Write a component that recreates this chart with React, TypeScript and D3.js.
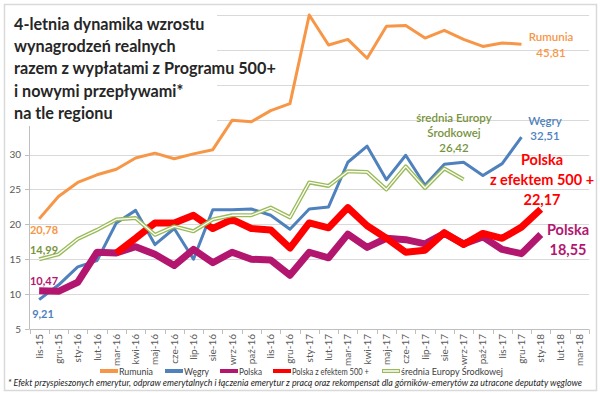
import { useEffect, useRef } from "react"
import * as d3 from "d3"

// Month categories on the x axis
const months = [
  "lis-15", "gru-15", "sty-16", "lut-16", "mar-16", "kwi-16", "maj-16", "cze-16",
  "lip-16", "sie-16", "wrz-16", "paź-16", "lis-16", "gru-16", "sty-17", "lut-17",
  "mar-17", "kwi-17", "maj-17", "cze-17", "lip-17", "sie-17", "wrz-17", "paź-17",
  "lis-17", "gru-17", "sty-18", "lut-18", "mar-18",
]

// Series values (null = no data for that month)
const rumunia = [
  20.78, 24.0, 26.0, 27.1, 27.9, 29.5, 30.2, 29.4, 30.1, 30.7, 34.9, 34.7, 36.3,
  37.3, 50.0, 45.7, 46.5, 43.8, 48.4, 48.5, 46.7, 47.8, 46.5, 45.5, 46.0, 45.81,
]
const wegry = [
  9.21, 11.3, 13.9, 14.8, 20.2, 22.0, 17.1, 19.4, 15.0, 22.1, 22.1, 22.2, 21.3,
  19.3, 22.2, 22.5, 28.9, 31.2, 26.4, 29.9, 25.6, 28.6, 28.9, 27.0, 28.7, 32.51,
]
const polska = [
  10.47, 10.4, 11.7, 16.0, 15.9, 16.8, 15.7, 14.1, 16.4, 14.5, 16.0, 15.0, 14.9,
  12.7, 16.0, 15.2, 18.6, 16.7, 18.0, 17.8, 17.2, 18.7, 17.2, 18.2, 16.4, 15.8, 18.55,
]
const polskaEfekt = [
  null, null, null, null, 15.9, 18.0, 20.2, 20.2, 21.3, 19.4, 20.7, 19.4, 19.2,
  16.6, 20.2, 19.5, 22.4, 19.8, 18.0, 16.0, 16.3, 18.8, 17.1, 18.7, 18.0, 19.6, 22.17,
]
const srednia = [
  14.99, 15.7, 17.9, 19.2, 20.7, 20.9, 18.5, 19.7, 19.0, 20.7, 21.3, 21.3, 22.4,
  21.0, 26.0, 25.5, 27.6, 27.5, 25.0, 28.3, 25.2, 28.0, 26.42,
]

// gridlines run 5..50; labels above 30 sit under the title box in the original
const yTicks = [5, 10, 15, 20, 25, 30, 35, 40, 45, 50]
const yLabels = [5, 10, 15, 20, 25, 30]

const titleLines = [
  "4-letnia dynamika wzrostu",
  "wynagrodzeń realnych",
  "razem z wypłatami z Programu 500+",
  "i nowymi przepływami*",
  "na tle regionu",
]

const footnote =
  "* Efekt przyspieszonych emerytur, odpraw emerytalnych i łączenia emerytur z pracą oraz rekompensat dla górników-emerytów za utracone deputaty węglowe"

interface Series {
  name: string
  values: (number | null)[]
  color: string
  width: number
  double?: boolean
}

const series: Series[] = [
  { name: "Rumunia", values: rumunia, color: "#F79646", width: 3 },
  { name: "Węgry", values: wegry, color: "#4F81BD", width: 3 },
  { name: "Polska", values: polska, color: "#B3166F", width: 7 },
  { name: "Polska z efektem 500 +", values: polskaEfekt, color: "#FF0000", width: 7 },
  { name: "średnia Europy Środkowej", values: srednia, color: "#9BBB59", width: 4, double: true },
]

const FONT = "Lato, 'Open Sans', sans-serif"

export default function App() {
  const svgRef = useRef<SVGSVGElement>(null)

  useEffect(() => {
    if (!svgRef.current) return
    const svg = d3.select(svgRef.current)
    svg.selectAll("*").remove()

    const width = 600
    const height = 393
    svg.attr("width", width).attr("height", height)

    // outer frame
    svg
      .append("rect")
      .attr("x", 4.5)
      .attr("y", 4.5)
      .attr("width", 592)
      .attr("height", 386)
      .attr("fill", "white")
      .attr("stroke", "#D9D9D9")
      .attr("stroke-width", 1.5)

    const x = d3.scaleBand<string>().domain(months).range([29.5, 589]).padding(0)
    const y = d3.scaleLinear().domain([5, 50]).range([329, 15])
    const cx = (i: number) => (x(months[i]) as number) + x.bandwidth() / 2

    // gridlines
    svg
      .append("g")
      .selectAll("line")
      .data(yTicks.slice(1))
      .enter()
      .append("line")
      .attr("x1", 29.5)
      .attr("x2", 589)
      .attr("y1", (d) => Math.round(y(d)) + 0.5)
      .attr("y2", (d) => Math.round(y(d)) + 0.5)
      .attr("stroke", "#D9D9D9")

    // y axis
    const yAxis = svg.append("g")
    yAxis
      .append("line")
      .attr("x1", 29.5)
      .attr("x2", 29.5)
      .attr("y1", 15)
      .attr("y2", 329)
      .attr("stroke", "#BFBFBF")
    yAxis
      .selectAll("line.tick")
      .data(yTicks)
      .enter()
      .append("line")
      .attr("class", "tick")
      .attr("x1", 25)
      .attr("x2", 29.5)
      .attr("y1", (d) => Math.round(y(d)) + 0.5)
      .attr("y2", (d) => Math.round(y(d)) + 0.5)
      .attr("stroke", "#BFBFBF")
    yAxis
      .selectAll("text")
      .data(yLabels)
      .enter()
      .append("text")
      .attr("x", 21)
      .attr("y", (d) => y(d))
      .attr("dy", "0.35em")
      .attr("text-anchor", "end")
      .style("font-family", FONT)
      .style("font-size", "10px")
      .style("fill", "#595959")
      .text((d) => d)

    // x axis
    const xAxis = svg.append("g")
    xAxis
      .append("line")
      .attr("x1", 29.5)
      .attr("x2", 589)
      .attr("y1", 329.5)
      .attr("y2", 329.5)
      .attr("stroke", "#BFBFBF")
    xAxis
      .selectAll("line.tick")
      .data(d3.range(months.length + 1))
      .enter()
      .append("line")
      .attr("class", "tick")
      .attr("x1", (i) => Math.round(29.5 + i * x.step()) + 0.5)
      .attr("x2", (i) => Math.round(29.5 + i * x.step()) + 0.5)
      .attr("y1", 329.5)
      .attr("y2", 334)
      .attr("stroke", "#BFBFBF")
    xAxis
      .selectAll("text")
      .data(months)
      .enter()
      .append("text")
      .attr("transform", (d, i) => `translate(${cx(i) + 3.5},334) rotate(-90)`)
      .attr("text-anchor", "end")
      .style("font-family", FONT)
      .style("font-size", "10px")
      .style("fill", "#595959")
      .text((d) => d)

    // lines
    const line = d3
      .line<number | null>()
      .defined((d) => d !== null)
      .x((d, i) => cx(i))
      .y((d) => y(d as number))

    const lines = svg.append("g")
    series.forEach((s) => {
      lines
        .append("path")
        .attr("d", line(s.values))
        .attr("fill", "none")
        .attr("stroke", s.color)
        .attr("stroke-width", s.width)
        .attr("stroke-linejoin", "round")
      if (s.double) {
        lines
          .append("path")
          .attr("d", line(s.values))
          .attr("fill", "none")
          .attr("stroke", "white")
          .attr("stroke-width", 1.3)
          .attr("stroke-linejoin", "round")
      }
    })

    // title box (covers upper-left of the plot)
    svg.append("rect").attr("x", 8).attr("y", 8).attr("width", 209).attr("height", 118).attr("fill", "white")
    svg
      .append("g")
      .selectAll("text")
      .data(titleLines)
      .enter()
      .append("text")
      .attr("x", 14)
      .attr("y", (d, i) => 30 + i * 22.2)
      .style("font-family", FONT)
      .style("font-size", "16.2px")
      .style("font-weight", "bold")
      .style("fill", "#262626")
      .text((d) => d)

    // value labels
    const label = (
      rows: string[],
      xPos: number,
      yPos: number,
      color: string,
      size: number,
      weight: string,
      step: number
    ) => {
      rows.forEach((t, i) => {
        svg
          .append("text")
          .attr("x", xPos)
          .attr("y", yPos + i * step)
          .attr("text-anchor", "middle")
          .style("font-family", FONT)
          .style("font-size", `${size}px`)
          .style("font-weight", weight)
          .style("fill", color)
          .text(t)
      })
    }
    const fmt = (v: number) => v.toFixed(2).replace(".", ",")

    label([fmt(rumunia[0])], 44, 234, "#F79646", 11, "bold", 0)
    label([fmt(srednia[0])], 44, 254, "#77933C", 11, "bold", 0)
    label([fmt(polska[0])], 44, 285, "#B3166F", 11, "bold", 0)
    label([fmt(wegry[0])], 43, 318, "#4F81BD", 11, "bold", 0)

    label(["Rumunia", fmt(rumunia[rumunia.length - 1])], 551, 41, "#F79646", 11.5, "600", 16)
    label(["Węgry", fmt(wegry[wegry.length - 1])], 545, 125, "#4F81BD", 11.5, "600", 15)
    label(["średnia Europy", "Środkowej", fmt(srednia[srednia.length - 1])], 454, 122, "#77933C", 11.5, "600", 15)
    label(
      ["Polska", "z efektem 500 +", fmt(polskaEfekt[polskaEfekt.length - 1] as number)],
      542,
      165,
      "#FF0000",
      14.5,
      "bold",
      20
    )
    label(["Polska", fmt(polska[polska.length - 1])], 568, 235, "#B3166F", 14.5, "bold", 20)

    // legend (Calibri-like narrow text, so widths are fitted)
    const legendX = [100, 165, 220, 273, 382]
    const legendTextW = [34, 25, 23, 77, 102]
    const legend = svg
      .append("g")
      .selectAll("g")
      .data(series)
      .enter()
      .append("g")
      .attr("transform", (d, i) => `translate(${legendX[i]},371)`)
    legend
      .append("line")
      .attr("x1", 0)
      .attr("x2", 18)
      .attr("stroke", (d) => d.color)
      .attr("stroke-width", 4)
    legend
      .filter((d) => !!d.double)
      .append("line")
      .attr("x1", 1)
      .attr("x2", 17)
      .attr("stroke", "white")
      .attr("stroke-width", 1.5)
    legend
      .append("text")
      .attr("x", 19)
      .attr("dy", "0.35em")
      .attr("textLength", (d, i) => legendTextW[i])
      .attr("lengthAdjust", "spacingAndGlyphs")
      .style("font-family", FONT)
      .style("font-size", "10px")
      .style("fill", "#404040")
      .text((d) => d.name)

    // footnote
    svg
      .append("text")
      .attr("x", 8)
      .attr("y", 386)
      .attr("textLength", 574)
      .attr("lengthAdjust", "spacingAndGlyphs")
      .style("font-family", FONT)
      .style("font-size", "9px")
      .style("font-style", "italic")
      .style("fill", "#262626")
      .text(footnote)
  }, [])

  return <svg ref={svgRef} style={{ position: "absolute", left: 0, top: 0, display: "block" }}></svg>
}
